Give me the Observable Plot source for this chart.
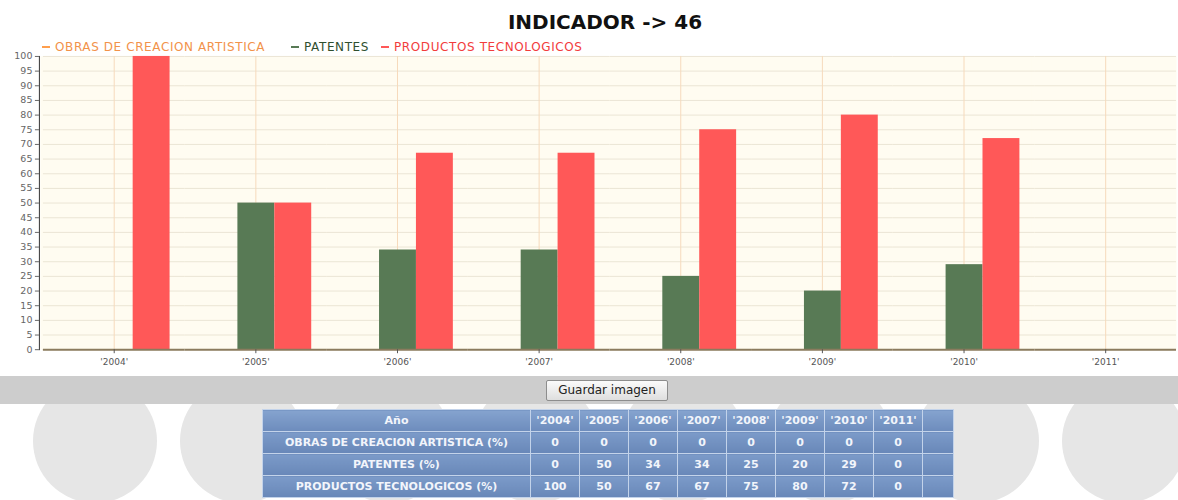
<!DOCTYPE html>
<html><head><meta charset="utf-8">
<script src="https://cdn.jsdelivr.net/npm/d3@7"></script>
<script src="https://cdn.jsdelivr.net/npm/@observablehq/plot@0.6"></script>
<style>
html,body{margin:0;padding:0;background:#fff;overflow:hidden;width:1178px;height:500px;}
#wrap{position:relative;width:1178px;height:500px;overflow:hidden;}
#title{position:absolute;left:0;top:9px;width:1210px;text-align:center;font:bold 20px "DejaVu Sans";line-height:26px;color:#111;}
#legend{position:absolute;left:0;top:40px;width:700px;height:14px;font:12px "DejaVu Sans";letter-spacing:0.6px;line-height:14px;white-space:nowrap;z-index:2;}
#legend span.item{position:absolute;top:0;}
#legend span.mk{display:inline-block;width:8px;height:2px;vertical-align:middle;margin:0 5px 2px 0;}
#chart{position:absolute;left:0;top:38px;}
#band{position:absolute;left:0;top:376px;width:1178px;height:28px;background:#cdcdcd;z-index:2;}
#btn{position:absolute;left:546px;top:380px;width:122px;height:21px;box-sizing:border-box;z-index:3;
  background:linear-gradient(#fbfbfb,#dedede);border:1px solid #8d8d8d;border-radius:2px;
  font:12px "DejaVu Sans";color:#222;text-align:center;line-height:19px;}
.circ{position:absolute;width:124px;height:124px;border-radius:50%;background:#e6e6e6;z-index:1;}
#tbl{position:absolute;left:262px;top:409px;z-index:3;border-collapse:collapse;table-layout:fixed;width:691px;
  font:bold 11px "DejaVu Sans";color:#f2f5fb;}
#tbl td{border:1px solid #c3d3ea;height:21px;padding:0;text-align:center;background:linear-gradient(#7c9bc9,#6887b8);overflow:hidden;white-space:nowrap;}
#tbl tr.h td{background:linear-gradient(#85a3cf,#6d8cbc);}
</style></head>
<body><div id="wrap">
<div id="title">INDICADOR -&gt; 46</div>
<div id="legend"></div>
<div id="chart"></div>
<div id="band"></div>
<div id="btn">Guardar imagen</div>
<table id="tbl"></table>
</div>
<script>
const years = ["'2004'","'2005'","'2006'","'2007'","'2008'","'2009'","'2010'","'2011'"];
const series = ["OBRAS DE CREACION ARTISTICA","PATENTES","PRODUCTOS TECNOLOGICOS"];
const obras = [0,0,0,0,0,0,0,0];
const patentes = [0,50,34,34,25,20,29,0];
const productos = [100,50,67,67,75,80,72,0];
const yTicks = [0,5,10,15,20,25,30,35,40,45,50,55,60,65,70,75,80,85,90,95,100];
const tableRowLabels = ["OBRAS DE CREACION ARTISTICA (%)","PATENTES (%)","PRODUCTOS TECNOLOGICOS (%)"];
const tableHeader = "Año";
const seriesColors = ["#ff9f4d","#587a55","#ff5858"];
const legendTextColors = ["#f2924a","#2f4f2f","#f23c3c"];
const legendLeft = [42, 291, 381];

const values = [obras, patentes, productos];
const rows = [];
years.forEach((yr, i) => values.forEach((arr, j) => rows.push({year: yr, serie: series[j], value: arr[i]})));

// legend
const leg = document.getElementById("legend");
series.forEach((s, j) => {
  const it = document.createElement("span");
  it.className = "item";
  it.style.left = legendLeft[j] + "px";
  it.style.color = legendTextColors[j];
  it.innerHTML = `<span class="mk" style="background:${seriesColors[j]}"></span>${s}`;
  leg.appendChild(it);
});

const chart = Plot.plot({
  width: 1181, height: 337,
  marginTop: 18, marginBottom: 25, marginLeft: 41, marginRight: 0,
  style: {background: "transparent", fontFamily: "DejaVu Sans", overflow: "visible"},
  fx: {domain: years, padding: 0, label: null},
  x: {domain: series, padding: 0, insetLeft: 15.5, insetRight: 15.5, axis: null},
  y: {domain: [0, 100], label: null},
  color: {domain: series, range: seriesColors},
  marks: [
    Plot.frame({fill: "#fffcf1", stroke: null, insetLeft: -3}),
    Plot.gridY(yTicks, {stroke: "#ebe5d5", strokeOpacity: 1}),
    Plot.gridFx({stroke: "#f6dabc", strokeOpacity: 1}),
    Plot.barY(rows, {fx: "year", x: "serie", y: "value", fill: "serie"}),
    Plot.ruleY([0], {stroke: "#8b7b5e", strokeWidth: 2}),
    Plot.axisY(yTicks, {tickSize: 4, fontSize: 9.5, color: "#666", tickPadding: 3, dx: -4, label: null}),
    Plot.axisFx({anchor: "bottom", tickSize: 4, fontSize: 9, color: "#555", label: null}),
    Plot.frame({anchor: "left", facetAnchor: "left", stroke: "#333", dx: -4})
  ]
});
document.getElementById("chart").appendChild(chart);

// decorative background circles
const wrap = document.getElementById("wrap");
for (let k = 0; k < 8; k++) {
  const c = document.createElement("div");
  c.className = "circ";
  c.style.left = (95 + 147 * k - 62) + "px";
  c.style.top = (441 - 62) + "px";
  wrap.appendChild(c);
}

// data table
const tbl = document.getElementById("tbl");
let html = `<colgroup><col style="width:268px">${years.map(() => '<col style="width:49px">').join("")}<col style="width:31px"></colgroup>`;
html += `<tr class="h"><td>${tableHeader}</td>${years.map(y => `<td>${y}</td>`).join("")}<td></td></tr>`;
tableRowLabels.forEach((lab, j) => {
  html += `<tr><td>${lab}</td>${values[j].map(v => `<td>${v}</td>`).join("")}<td></td></tr>`;
});
tbl.innerHTML = html;
</script>
</body></html>
